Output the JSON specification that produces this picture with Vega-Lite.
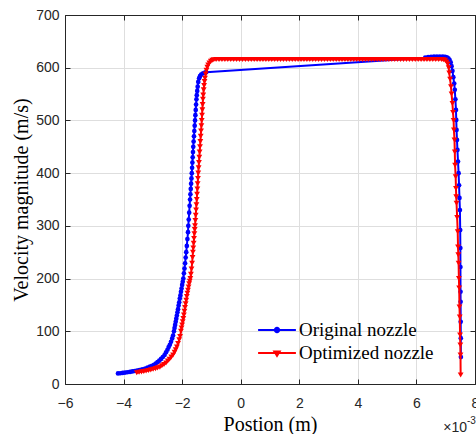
{
"$schema":"https://vega.github.io/schema/vega-lite/v6.json",
"width":410,"height":369,
"autosize":"none",
"padding":{"left":65,"top":15,"right":1,"bottom":50},
"background":"white",
"config":{"view":{"stroke":"#262626","strokeWidth":1}},
"datasets":{
"orig":[{"x":-4.19,"y":20},{"x":-4.11,"y":20.4},{"x":-4.03,"y":21},{"x":-3.95,"y":21.6},{"x":-3.87,"y":22.3},{"x":-3.78,"y":23},{"x":-3.7,"y":23.8},{"x":-3.62,"y":24.7},{"x":-3.54,"y":25.6},{"x":-3.46,"y":26.5},{"x":-3.38,"y":27.4},{"x":-3.33,"y":28},{"x":-3.26,"y":29.4},{"x":-3.18,"y":31},{"x":-3.1,"y":32.8},{"x":-3.03,"y":34.3},{"x":-2.96,"y":36.5},{"x":-2.9,"y":38.8},{"x":-2.84,"y":41.5},{"x":-2.78,"y":44.2},{"x":-2.72,"y":47.5},{"x":-2.66,"y":51.2},{"x":-2.6,"y":55},{"x":-2.55,"y":60},{"x":-2.5,"y":65},{"x":-2.46,"y":70},{"x":-2.42,"y":74.5},{"x":-2.38,"y":80},{"x":-2.34,"y":86.5},{"x":-2.31,"y":92},{"x":-2.28,"y":100},{"x":-2.26,"y":106},{"x":-2.24,"y":112},{"x":-2.22,"y":118},{"x":-2.2,"y":124},{"x":-2.18,"y":130},{"x":-2.16,"y":136},{"x":-2.14,"y":142},{"x":-2.12,"y":149},{"x":-2.1,"y":155},{"x":-2.08,"y":162},{"x":-2.06,"y":168},{"x":-2.04,"y":175},{"x":-2.02,"y":181},{"x":-2.0,"y":188},{"x":-1.98,"y":194},{"x":-1.96,"y":200},{"x":-1.94,"y":210},{"x":-1.92,"y":219},{"x":-1.9,"y":229},{"x":-1.88,"y":240},{"x":-1.86,"y":250},{"x":-1.84,"y":262},{"x":-1.82,"y":275},{"x":-1.8,"y":288},{"x":-1.79,"y":300},{"x":-1.775,"y":312},{"x":-1.76,"y":325},{"x":-1.745,"y":338},{"x":-1.73,"y":350},{"x":-1.718,"y":360},{"x":-1.706,"y":370},{"x":-1.694,"y":380},{"x":-1.682,"y":390},{"x":-1.67,"y":400},{"x":-1.66,"y":410},{"x":-1.65,"y":420},{"x":-1.64,"y":430},{"x":-1.63,"y":440},{"x":-1.62,"y":450},{"x":-1.608,"y":460},{"x":-1.596,"y":470},{"x":-1.584,"y":480},{"x":-1.572,"y":490},{"x":-1.56,"y":500},{"x":-1.548,"y":510},{"x":-1.536,"y":520},{"x":-1.524,"y":530},{"x":-1.512,"y":540},{"x":-1.5,"y":548},{"x":-1.485,"y":556},{"x":-1.47,"y":564},{"x":-1.45,"y":573},{"x":-1.42,"y":580},{"x":-1.39,"y":584},{"x":-1.35,"y":587},{"x":-1.3,"y":589},{"x":-1.24,"y":590.5},{"x":-1.18,"y":591.5},{"x":6.3,"y":619},{"x":6.4,"y":620},{"x":6.5,"y":620.5},{"x":6.6,"y":621},{"x":6.7,"y":621},{"x":6.8,"y":621},{"x":6.9,"y":621},{"x":6.98,"y":620.5},{"x":7.04,"y":619.5},{"x":7.09,"y":618},{"x":7.13,"y":615},{"x":7.17,"y":610},{"x":7.2,"y":603},{"x":7.23,"y":594},{"x":7.26,"y":582},{"x":7.29,"y":570},{"x":7.31,"y":558},{"x":7.33,"y":540},{"x":7.35,"y":520},{"x":7.36,"y":501},{"x":7.37,"y":482},{"x":7.385,"y":463},{"x":7.4,"y":444},{"x":7.42,"y":422},{"x":7.44,"y":400},{"x":7.455,"y":377},{"x":7.47,"y":353},{"x":7.485,"y":330},{"x":7.495,"y":292},{"x":7.5,"y":258},{"x":7.503,"y":222},{"x":7.506,"y":175},{"x":7.509,"y":156},{"x":7.512,"y":118},{"x":7.515,"y":87},{"x":7.518,"y":51}],
"opt":[{"x":-3.55,"y":21.5},{"x":-3.47,"y":22.2},{"x":-3.39,"y":23},{"x":-3.31,"y":23.8},{"x":-3.23,"y":24.7},{"x":-3.15,"y":25.7},{"x":-3.07,"y":26.8},{"x":-2.99,"y":28},{"x":-2.91,"y":29.2},{"x":-2.84,"y":30.6},{"x":-2.76,"y":32},{"x":-2.69,"y":34.5},{"x":-2.62,"y":37},{"x":-2.55,"y":40},{"x":-2.49,"y":43.5},{"x":-2.43,"y":47},{"x":-2.37,"y":51},{"x":-2.31,"y":55},{"x":-2.26,"y":60},{"x":-2.22,"y":65},{"x":-2.18,"y":70},{"x":-2.14,"y":77},{"x":-2.1,"y":84},{"x":-2.07,"y":90},{"x":-2.04,"y":100},{"x":-2.02,"y":106},{"x":-2.0,"y":112},{"x":-1.98,"y":118},{"x":-1.96,"y":124},{"x":-1.94,"y":131},{"x":-1.92,"y":138},{"x":-1.9,"y":145},{"x":-1.88,"y":152},{"x":-1.86,"y":159},{"x":-1.84,"y":166},{"x":-1.82,"y":172},{"x":-1.8,"y":178},{"x":-1.78,"y":184},{"x":-1.76,"y":190},{"x":-1.74,"y":195},{"x":-1.72,"y":200},{"x":-1.7,"y":208},{"x":-1.68,"y":218},{"x":-1.66,"y":229},{"x":-1.645,"y":240},{"x":-1.632,"y":250},{"x":-1.62,"y":258},{"x":-1.607,"y":267},{"x":-1.594,"y":276},{"x":-1.582,"y":285},{"x":-1.57,"y":293},{"x":-1.56,"y":300},{"x":-1.548,"y":310},{"x":-1.536,"y":320},{"x":-1.524,"y":330},{"x":-1.512,"y":340},{"x":-1.5,"y":350},{"x":-1.49,"y":360},{"x":-1.48,"y":370},{"x":-1.47,"y":380},{"x":-1.46,"y":390},{"x":-1.45,"y":400},{"x":-1.438,"y":410},{"x":-1.426,"y":420},{"x":-1.414,"y":430},{"x":-1.402,"y":440},{"x":-1.39,"y":450},{"x":-1.378,"y":460},{"x":-1.366,"y":470},{"x":-1.354,"y":480},{"x":-1.342,"y":490},{"x":-1.33,"y":500},{"x":-1.32,"y":510},{"x":-1.31,"y":520},{"x":-1.3,"y":530},{"x":-1.29,"y":540},{"x":-1.28,"y":548},{"x":-1.265,"y":558},{"x":-1.25,"y":566},{"x":-1.235,"y":574},{"x":-1.22,"y":580},{"x":-1.195,"y":588},{"x":-1.17,"y":595},{"x":-1.14,"y":601},{"x":-1.11,"y":605},{"x":-1.07,"y":609},{"x":-1.02,"y":612},{"x":-0.97,"y":614},{"x":-0.92,"y":615},{"x":-0.84,"y":615.5},{"x":-0.74,"y":615.5},{"x":-0.64,"y":615.5},{"x":-0.54,"y":615.5},{"x":-0.44,"y":615.5},{"x":-0.34,"y":615.5},{"x":-0.24,"y":615.5},{"x":-0.14,"y":615.5},{"x":-0.04,"y":615.5},{"x":0.06,"y":615.5},{"x":0.16,"y":615.5},{"x":0.26,"y":615.5},{"x":0.36,"y":615.5},{"x":0.46,"y":615.5},{"x":0.56,"y":615.5},{"x":0.66,"y":615.5},{"x":0.76,"y":615.5},{"x":0.86,"y":615.5},{"x":0.96,"y":615.5},{"x":1.06,"y":615.5},{"x":1.16,"y":615.5},{"x":1.26,"y":615.5},{"x":1.36,"y":615.5},{"x":1.46,"y":615.5},{"x":1.56,"y":615.5},{"x":1.66,"y":615.5},{"x":1.76,"y":615.5},{"x":1.86,"y":615.5},{"x":1.96,"y":615.5},{"x":2.06,"y":615.5},{"x":2.16,"y":615.5},{"x":2.26,"y":615.5},{"x":2.36,"y":615.5},{"x":2.46,"y":615.5},{"x":2.56,"y":615.5},{"x":2.66,"y":615.5},{"x":2.76,"y":615.5},{"x":2.86,"y":615.5},{"x":2.96,"y":615.5},{"x":3.06,"y":615.5},{"x":3.16,"y":615.5},{"x":3.26,"y":615.5},{"x":3.36,"y":615.5},{"x":3.46,"y":615.5},{"x":3.56,"y":615.5},{"x":3.66,"y":615.5},{"x":3.76,"y":615.5},{"x":3.86,"y":615.5},{"x":3.96,"y":615.5},{"x":4.06,"y":615.5},{"x":4.16,"y":615.5},{"x":4.26,"y":615.5},{"x":4.36,"y":615.5},{"x":4.46,"y":615.5},{"x":4.56,"y":615.5},{"x":4.66,"y":615.5},{"x":4.76,"y":615.5},{"x":4.86,"y":615.5},{"x":4.96,"y":615.5},{"x":5.06,"y":615.5},{"x":5.16,"y":615.5},{"x":5.26,"y":615.5},{"x":5.36,"y":615.5},{"x":5.46,"y":615.5},{"x":5.56,"y":615.5},{"x":5.66,"y":615.5},{"x":5.76,"y":615.5},{"x":5.86,"y":615.5},{"x":5.96,"y":615.5},{"x":6.06,"y":615.5},{"x":6.16,"y":615.5},{"x":6.26,"y":615.5},{"x":6.36,"y":615.5},{"x":6.46,"y":615.5},{"x":6.56,"y":615.5},{"x":6.66,"y":615.5},{"x":6.76,"y":615.5},{"x":6.86,"y":615.5},{"x":6.92,"y":615},{"x":6.98,"y":614},{"x":7.03,"y":611},{"x":7.07,"y":607},{"x":7.1,"y":600},{"x":7.12,"y":590},{"x":7.15,"y":578},{"x":7.18,"y":564},{"x":7.2,"y":550},{"x":7.23,"y":532},{"x":7.25,"y":515},{"x":7.27,"y":500},{"x":7.28,"y":482},{"x":7.3,"y":463},{"x":7.31,"y":440},{"x":7.32,"y":415},{"x":7.34,"y":393},{"x":7.35,"y":371},{"x":7.36,"y":355},{"x":7.37,"y":343},{"x":7.39,"y":316},{"x":7.41,"y":289},{"x":7.42,"y":260},{"x":7.43,"y":245},{"x":7.44,"y":229},{"x":7.45,"y":200},{"x":7.46,"y":182},{"x":7.47,"y":146},{"x":7.48,"y":127},{"x":7.49,"y":93},{"x":7.5,"y":74},{"x":7.505,"y":55},{"x":7.51,"y":17}]
},
"resolve":{"axis":{"x":"independent","y":"independent"}},
"layer":[
{"data":{"name":"orig"},
 "mark":{"type":"line","strokeWidth":2},
 "encoding":{
  "x":{"field":"x","type":"quantitative","scale":{"domain":[-6,8],"nice":false,"zero":false},
   "axis":{"orient":"bottom","values":[-6,-4,-2,0,2,4,6,8],"grid":true,"gridColor":"#dedede","gridWidth":1,"domainColor":"#262626","tickColor":"#262626","tickSize":-5,"labelPadding":17,"labelFont":"Liberation Sans","labelFontSize":14,"labelColor":"#262626","labelFlush":false,"labelOverlap":false,"title":"Postion (m)","titleFont":"Liberation Serif","titleFontSize":20,"titleFontWeight":"normal","titleColor":"#000000","titlePadding":4}},
  "y":{"field":"y","type":"quantitative","scale":{"domain":[0,700],"nice":false},
   "axis":{"orient":"left","values":[0,100,200,300,400,500,600,700],"grid":true,"gridColor":"#dedede","gridWidth":1,"domainColor":"#262626","tickColor":"#262626","tickSize":-5,"labelPadding":11,"labelFont":"Liberation Sans","labelFontSize":14,"labelColor":"#262626","labelFlush":false,"labelOverlap":false,"title":"Velocity magnitude (m/s)","titleFont":"Liberation Serif","titleFontSize":20,"titleFontWeight":"normal","titleColor":"#000000","titlePadding":4}},
  "color":{"datum":"Original nozzle","type":"nominal","scale":{"domain":["Original nozzle","Optimized nozzle"],"range":["#0000ff","#ff0000"]},
   "legend":{"orient":"none","legendX":202,"legendY":305,"title":null,"padding":0,"symbolSize":324,"symbolStrokeWidth":2,"symbolOpacity":1,"labelFont":"Liberation Serif","labelFontSize":19,"labelColor":"#000000","labelOffset":12,"rowPadding":3,
    "encode":{"symbols":{"update":{"shape":{"signal":"datum.value === 'Original nozzle' ? 'M-2.1,0H2.1M-0.24,0A0.24,0.24,0,1,0,0.24,0A0.24,0.24,0,1,0,-0.24,0Z' : 'M-2.1,0H2.1M-0.3,-0.18L0.3,-0.18L0,0.32Z'"},"fill":{"scale":"color","field":"value"}}}}}}
 }},
{"data":{"name":"orig"},
 "mark":{"type":"point","filled":true,"shape":"circle","size":22,"color":"#0000ff","opacity":1},
 "encoding":{
  "x":{"field":"x","type":"quantitative","scale":{"domain":[-6,8],"nice":false,"zero":false},
   "axis":{"orient":"top","values":[-6,-4,-2,0,2,4,6,8],"grid":false,"labels":false,"title":null,"domainColor":"#262626","tickColor":"#262626","tickSize":-5}},
  "y":{"field":"y","type":"quantitative","scale":{"domain":[0,700],"nice":false},
   "axis":{"orient":"right","values":[0,100,200,300,400,500,600,700],"grid":false,"labels":false,"title":null,"domainColor":"#262626","tickColor":"#262626","tickSize":-5}}
 }},
{"data":{"name":"opt"},
 "mark":{"type":"line","strokeWidth":2},
 "encoding":{
  "x":{"field":"x","type":"quantitative","scale":{"domain":[-6,8],"nice":false,"zero":false},"axis":null},
  "y":{"field":"y","type":"quantitative","scale":{"domain":[0,700],"nice":false},"axis":null},
  "color":{"datum":"Optimized nozzle","type":"nominal"}
 }},
{"data":{"name":"opt"},
 "mark":{"type":"point","filled":true,"shape":"triangle-down","size":34,"color":"#ff0000","opacity":1},
 "encoding":{
  "x":{"field":"x","type":"quantitative","scale":{"domain":[-6,8],"nice":false,"zero":false},"axis":null},
  "y":{"field":"y","type":"quantitative","scale":{"domain":[0,700],"nice":false},"axis":null}
 }},
{"data":{"values":[{}]},
 "mark":{"type":"text","text":"×10","align":"right","baseline":"alphabetic","dx":-8,"dy":48,"font":"Liberation Sans","fontSize":14,"color":"#262626"},
 "encoding":{
  "x":{"datum":8,"type":"quantitative","scale":{"domain":[-6,8],"nice":false,"zero":false},"axis":null},
  "y":{"datum":0,"type":"quantitative","scale":{"domain":[0,700],"nice":false},"axis":null}
 }},
{"data":{"values":[{}]},
 "mark":{"type":"text","text":"-3","align":"left","baseline":"alphabetic","dx":-8,"dy":40,"font":"Liberation Sans","fontSize":10,"color":"#262626"},
 "encoding":{
  "x":{"datum":8,"type":"quantitative","scale":{"domain":[-6,8],"nice":false,"zero":false},"axis":null},
  "y":{"datum":0,"type":"quantitative","scale":{"domain":[0,700],"nice":false},"axis":null}
 }}
]
}
